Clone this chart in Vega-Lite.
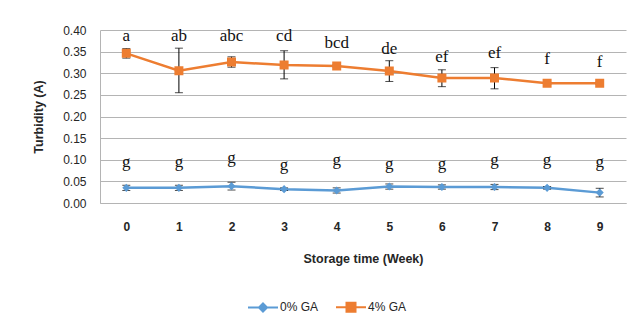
{
  "$schema": "https://vega.github.io/schema/vega-lite/v6.json",
  "width": 526,
  "height": 173,
  "autosize": {"type": "none"},
  "padding": {"left": 100, "top": 30, "right": 12, "bottom": 121},
  "background": "white",
  "config": {
    "view": {"stroke": null},
    "font": "Liberation Sans",
    "axisY": {
      "grid": true, "gridColor": "#b4b4b4", "gridWidth": 1,
      "ticks": false, "domain": true, "domainColor": "#b4b4b4", "domainWidth": 1,
      "labelFont": "Liberation Sans", "labelFontSize": 12, "labelColor": "#262626",
      "labelPadding": 14,
      "titleFont": "Liberation Sans", "titleFontSize": 12.5, "titleFontWeight": "bold", "titleColor": "#262626",
      "titlePadding": 17
    },
    "legend": {
      "title": null,
      "orient": "none",
      "direction": "horizontal",
      "legendX": 147,
      "legendY": 261,
      "padding": 0,
      "symbolSize": 900,
      "symbolStrokeWidth": 2,
      "labelOffset": 1,
      "columnPadding": 13,
      "labelFont": "Liberation Sans",
      "labelFontSize": 12,
      "labelColor": "#262626"
    }
  },
  "data": {
    "values": [
      {"week": "0", "series": "0% GA", "mean": 0.035, "lo": 0.029, "hi": 0.041, "letter": "g", "ly": 0.083},
      {"week": "1", "series": "0% GA", "mean": 0.035, "lo": 0.029, "hi": 0.041, "letter": "g", "ly": 0.083},
      {"week": "2", "series": "0% GA", "mean": 0.039, "lo": 0.030, "hi": 0.048, "letter": "g", "ly": 0.0925},
      {"week": "3", "series": "0% GA", "mean": 0.032, "lo": 0.029, "hi": 0.035, "letter": "g", "ly": 0.076},
      {"week": "4", "series": "0% GA", "mean": 0.029, "lo": 0.023, "hi": 0.035, "letter": "g", "ly": 0.089},
      {"week": "5", "series": "0% GA", "mean": 0.038, "lo": 0.032, "hi": 0.044, "letter": "g", "ly": 0.0775},
      {"week": "6", "series": "0% GA", "mean": 0.037, "lo": 0.032, "hi": 0.042, "letter": "g", "ly": 0.0775},
      {"week": "7", "series": "0% GA", "mean": 0.037, "lo": 0.031, "hi": 0.043, "letter": "g", "ly": 0.089},
      {"week": "8", "series": "0% GA", "mean": 0.035, "lo": 0.032, "hi": 0.038, "letter": "g", "ly": 0.089},
      {"week": "9", "series": "0% GA", "mean": 0.024, "lo": 0.014, "hi": 0.034, "letter": "g", "ly": 0.083},
      {"week": "0", "series": "4% GA", "mean": 0.346, "lo": 0.335, "hi": 0.357, "letter": "a", "ly": 0.375},
      {"week": "1", "series": "4% GA", "mean": 0.306, "lo": 0.255, "hi": 0.358, "letter": "ab", "ly": 0.374},
      {"week": "2", "series": "4% GA", "mean": 0.326, "lo": 0.314, "hi": 0.338, "letter": "abc", "ly": 0.375},
      {"week": "3", "series": "4% GA", "mean": 0.319, "lo": 0.287, "hi": 0.352, "letter": "cd", "ly": 0.375},
      {"week": "4", "series": "4% GA", "mean": 0.317, "lo": 0.314, "hi": 0.320, "letter": "bcd", "ly": 0.359},
      {"week": "5", "series": "4% GA", "mean": 0.305, "lo": 0.281, "hi": 0.329, "letter": "de", "ly": 0.345},
      {"week": "6", "series": "4% GA", "mean": 0.289, "lo": 0.269, "hi": 0.308, "letter": "ef", "ly": 0.327},
      {"week": "7", "series": "4% GA", "mean": 0.289, "lo": 0.264, "hi": 0.313, "letter": "ef", "ly": 0.335},
      {"week": "8", "series": "4% GA", "mean": 0.277, "lo": 0.274, "hi": 0.280, "letter": "f", "ly": 0.321},
      {"week": "9", "series": "4% GA", "mean": 0.277, "lo": 0.274, "hi": 0.280, "letter": "f", "ly": 0.315}
    ]
  },
  "encoding": {
    "x": {
      "field": "week", "type": "ordinal",
      "scale": {"type": "point", "padding": 0.5},
      "axis": {
        "title": "Storage time (Week)",
        "labelAngle": 0,
        "labelFont": "Liberation Sans", "labelFontSize": 12, "labelFontWeight": "bold", "labelColor": "#262626",
        "labelPadding": 18,
        "ticks": false, "domain": true, "domainColor": "#b4b4b4", "domainWidth": 1,
        "titleFont": "Liberation Sans", "titleFontSize": 12.5, "titleFontWeight": "bold", "titleColor": "#262626",
        "titlePadding": 20
      }
    }
  },
  "layer": [
    {
      "mark": {"type": "line", "strokeWidth": 2.5},
      "encoding": {
        "y": {
          "field": "mean", "type": "quantitative",
          "scale": {"domain": [0, 0.4]},
          "axis": {"title": "Turbidity (A)", "values": [0, 0.05, 0.1, 0.15, 0.2, 0.25, 0.3, 0.35, 0.4], "format": ".2f"}
        },
        "stroke": {
          "field": "series", "type": "nominal",
          "scale": {"domain": ["0% GA", "4% GA"], "range": ["#5B9BD5", "#ED7D31"]}
        }
      }
    },
    {
      "mark": {"type": "rule", "color": "black", "strokeWidth": 1},
      "encoding": {
        "y": {"field": "lo", "type": "quantitative",
          "axis": {"title": "Turbidity (A)", "values": [0, 0.05, 0.1, 0.15, 0.2, 0.25, 0.3, 0.35, 0.4], "format": ".2f"}},
        "y2": {"field": "hi"}
      }
    },
    {
      "mark": {"type": "tick", "color": "black", "thickness": 1, "size": 8},
      "encoding": {
        "y": {"field": "lo", "type": "quantitative",
          "axis": {"title": "Turbidity (A)", "values": [0, 0.05, 0.1, 0.15, 0.2, 0.25, 0.3, 0.35, 0.4], "format": ".2f"}}
      }
    },
    {
      "mark": {"type": "tick", "color": "black", "thickness": 1, "size": 8},
      "encoding": {
        "y": {"field": "hi", "type": "quantitative",
          "axis": {"title": "Turbidity (A)", "values": [0, 0.05, 0.1, 0.15, 0.2, 0.25, 0.3, 0.35, 0.4], "format": ".2f"}}
      }
    },
    {
      "mark": {"type": "point", "filled": true, "opacity": 1, "size": 900},
      "encoding": {
        "y": {"field": "mean", "type": "quantitative",
          "axis": {"title": "Turbidity (A)", "values": [0, 0.05, 0.1, 0.15, 0.2, 0.25, 0.3, 0.35, 0.4], "format": ".2f"}},
        "color": {
          "field": "series", "type": "nominal",
          "scale": {"domain": ["0% GA", "4% GA"], "range": ["#5B9BD5", "#ED7D31"]}
        },
        "shape": {
          "field": "series", "type": "nominal",
          "scale": {
            "domain": ["0% GA", "4% GA"],
            "range": ["M-1,0H1M0,-0.27L0.27,0L0,0.27L-0.27,0Z", "M-1,0H1M-0.3,-0.3H0.3V0.3H-0.3Z"]
          }
        }
      }
    },
    {
      "mark": {"type": "text", "font": "Liberation Serif", "fontSize": 17, "baseline": "alphabetic", "align": "center", "color": "#111111"},
      "encoding": {
        "y": {"field": "ly", "type": "quantitative",
          "axis": {"title": "Turbidity (A)", "values": [0, 0.05, 0.1, 0.15, 0.2, 0.25, 0.3, 0.35, 0.4], "format": ".2f"}},
        "text": {"field": "letter"}
      }
    }
  ]
}
